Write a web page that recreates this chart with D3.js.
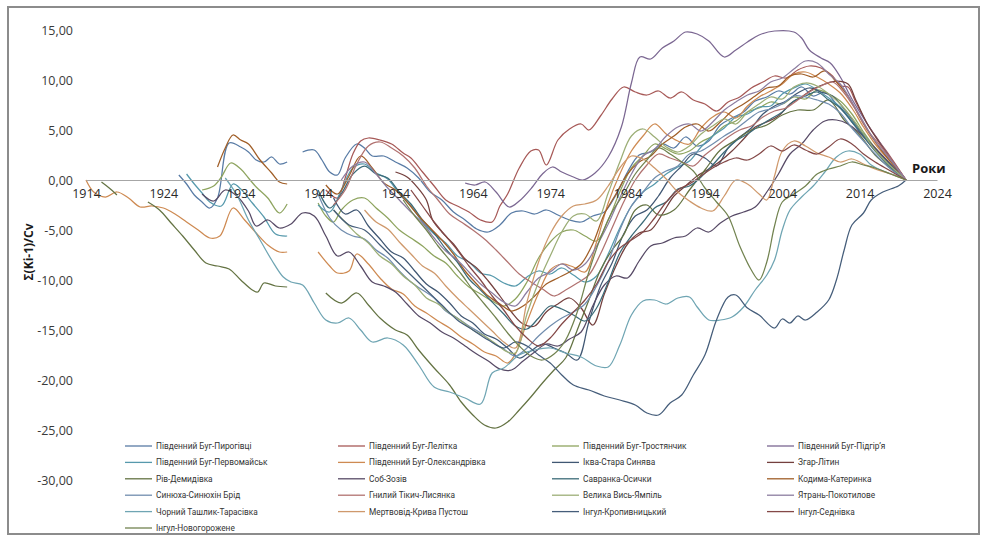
<!DOCTYPE html>
<html>
<head>
<meta charset="utf-8">
<script src="https://cdnjs.cloudflare.com/ajax/libs/d3/7.8.5/d3.min.js"></script>
<style>
  body { margin: 0; background: #fff; }
  svg { display: block; font-family: 'Open Sans', sans-serif; }
</style>
</head>
<body>
<div id="chart"></div>
<script>
// ── DATA: Σ(Ki-1)/Cv difference-integral curves, [year, value] ─────────
const pyrohivtsi = [[1926,0.5],[1927,-0.4],[1928,-1.5],[1929,-2.2],[1930,-2.8],[1931,-1.8],[1932.5,3.7],[1934,3.3],[1935,2.8],[1936,2.0],[1937,1.8],[1938,2.3],[1939,1.6],[1940,1.8],[1941,null],[1942,2.8],[1943.5,3.0],[1944.5,2.0],[1945.5,0.8],[1946.5,0.5],[1947.5,2.2],[1949,3.6],[1950,3.2],[1951,2.4],[1952.5,2.4],[1954,1.8],[1955.5,1.2],[1957,0.2],[1958.5,-1.2],[1960,-2.0],[1961.5,-3.2],[1963,-4.0],[1964.5,-4.9],[1966,-5.2],[1967.5,-4.5],[1969,-3.3],[1970.5,-3.1],[1972,-3.4],[1973.5,-3.0],[1975,-3.5],[1976.5,-4.0],[1978,-4.2],[1979.5,-3.6],[1981,-3.2],[1982.5,-1.5],[1984,0.8],[1985.5,2.5],[1987,2.8],[1988.5,3.6],[1990,3.2],[1991.5,4.3],[1993,3.4],[1994.5,3.9],[1996,5.5],[1997.5,6.2],[1999,6.8],[2000.5,7.9],[2002,8.3],[2003.5,8.9],[2005,8.6],[2006.5,9.3],[2008,8.4],[2009.5,8.8],[2011,7.6],[2012.5,6.3],[2014,4.8],[2015.5,3.4],[2017,2.3],[2018.5,1.1],[2020,0]];
const lelitka = [[1945,-1.0],[1946.5,-1.8],[1947.5,0.2],[1948.5,2.6],[1949.5,3.9],[1950.5,4.2],[1952,4.0],[1953.5,3.6],[1955,2.7],[1956,2.2],[1957.5,0.8],[1959,-0.6],[1960.5,-2.0],[1962,-2.6],[1963.5,-3.2],[1965,-4.0],[1966.5,-4.2],[1967.5,-2.6],[1968.5,-1.4],[1970,1.2],[1971.5,2.9],[1972.5,3.0],[1973.5,1.5],[1975,4.0],[1976.5,5.1],[1978,5.6],[1979,5.0],[1980.5,6.4],[1982,8.1],[1983.5,9.3],[1985,8.8],[1986.5,8.5],[1988,8.9],[1989.5,8.2],[1991,8.8],[1992.5,8.0],[1994,7.6],[1995.5,6.9],[1997,7.8],[1998.5,8.3],[2000,9.2],[2001.5,9.8],[2003,10.4],[2004.5,10.2],[2006,11.0],[2007.5,11.4],[2009,11.2],[2010.5,10.4],[2011.5,9.4],[2012.5,9.3],[2013.5,7.8],[2015,5.6],[2016.5,3.9],[2018,2.3],[2020,0]];
const trostianchyk = [[1929,-1.0],[1930.5,-0.6],[1931.5,0.3],[1932.7,1.7],[1934,1.1],[1935,0.2],[1936,-0.7],[1937.5,-1.8],[1939,-3.3],[1940,-2.4],[1941,null],[1944,-2.3],[1945,-3.6],[1946,-4.2],[1947,-3.0],[1948.5,-2.0],[1950,-1.8],[1951.5,-2.8],[1953,-3.8],[1954.5,-5.0],[1956,-5.8],[1957.5,-6.6],[1959,-7.6],[1960.5,-8.3],[1962,-9.6],[1963.5,-10.7],[1965,-11.4],[1966.5,-12.1],[1968,-12.6],[1969.5,-11.9],[1971,-10.2],[1972.5,-7.8],[1974,-6.2],[1975.5,-5.2],[1977,-5.0],[1978.5,-5.6],[1980,-6.1],[1981.5,-4.0],[1983,-1.2],[1984.5,1.2],[1986,2.4],[1987.5,3.6],[1989,3.1],[1990.5,2.6],[1992,2.9],[1993.5,3.8],[1995,4.4],[1996.5,5.4],[1998,5.9],[1999.5,6.8],[2001,7.2],[2002.5,7.8],[2004,7.6],[2005.5,8.3],[2007,8.1],[2008.5,9.0],[2010,8.6],[2011.5,7.9],[2013,6.6],[2014.5,4.8],[2016,3.2],[2018,1.5],[2020,0]];
const pidhirya = [[1963,-0.3],[1964.3,-0.5],[1965.6,-0.2],[1967,-1.2],[1968.7,-2.7],[1970,-2.1],[1971.7,-0.7],[1973,0.6],[1974.3,1.3],[1975.5,0.8],[1977,0.3],[1978.2,0.0],[1979.8,0.7],[1981.5,2.3],[1983.2,5.3],[1984.5,9.7],[1985.6,12.3],[1987,12.1],[1988.5,13.2],[1990,13.9],[1991.5,14.8],[1993,14.6],[1994.5,13.9],[1996.5,12.3],[1998,13.0],[1999.5,13.8],[2001,14.5],[2003,14.9],[2005.5,14.8],[2006.5,14.2],[2007.5,13.0],[2009,12.2],[2010.2,11.7],[2011.5,10.3],[2013,8.1],[2015,5.6],[2017,3.3],[2018.5,1.6],[2020,0]];
const pervomaisk = [[1927,0.6],[1928,-0.4],[1929,-1.3],[1930,-2.2],[1931.5,-2.6],[1933,-0.4],[1934,-0.9],[1935.5,-2.3],[1937,-3.7],[1938.5,-5.4],[1940,-5.6],[1941,null],[1944,-2.5],[1945.5,-3.2],[1947,-1.0],[1948.5,1.2],[1950,1.6],[1951.5,0.7],[1953,0.1],[1954.5,-1.4],[1956,-2.6],[1957.5,-4.2],[1959,-5.4],[1960.5,-6.3],[1962,-7.6],[1963.5,-8.2],[1965,-9.3],[1966.5,-9.6],[1968,-10.3],[1969.5,-10.6],[1971,-9.7],[1972.5,-9.1],[1974,-9.4],[1975.5,-8.8],[1977,-9.5],[1978.5,-10.2],[1980,-9.6],[1981.5,-7.4],[1983,-4.8],[1984.5,-2.6],[1986,-1.2],[1987.5,-0.4],[1989,0.6],[1990.5,1.3],[1992,1.9],[1993.5,3.3],[1995,4.4],[1996.5,5.2],[1998,6.3],[1999.5,6.6],[2001,7.3],[2002.5,7.4],[2004,8.6],[2005.5,9.2],[2007,9.6],[2008.5,9.0],[2010,8.2],[2011.5,7.3],[2013,5.9],[2014.5,4.6],[2016,3.1],[2018,1.5],[2020,0]];
const oleksandrivka = [[1914,0],[1915,-1.2],[1916.5,-1.7],[1918,-1.2],[1919.5,-1.8],[1921,-2.7],[1922.5,-2.6],[1924,-2.8],[1925.5,-3.4],[1927,-4.2],[1928.5,-5.0],[1930,-5.8],[1931.3,-5.6],[1933,-2.8],[1934.5,-4.0],[1936,-5.3],[1937.5,-6.5],[1939,-7.2],[1940,-7.2],[1941,null],[1944,-7.2],[1945.5,-8.6],[1946.5,-9.3],[1948,-9.1],[1949,-7.4],[1950.5,-8.4],[1952,-9.8],[1953.5,-10.9],[1955,-11.4],[1956.5,-12.6],[1958,-13.3],[1959.5,-14.1],[1961,-14.8],[1962.5,-15.7],[1964,-16.4],[1965.5,-17.2],[1967,-17.6],[1968.5,-18.3],[1969.5,-17.4],[1971,-14.2],[1972.5,-11.3],[1974,-9.0],[1975.5,-8.4],[1977,-8.7],[1978.5,-9.2],[1980,-6.2],[1981.5,-2.3],[1983,0.6],[1984.5,2.9],[1986,4.4],[1987.5,5.6],[1989,4.6],[1990.5,3.9],[1992,3.6],[1993.5,5.2],[1995,6.3],[1996.5,6.8],[1998,6.2],[1999.5,7.4],[2001,8.3],[2002.5,8.9],[2004,9.6],[2005.5,10.6],[2007,10.8],[2008.5,10.3],[2010,9.6],[2011.5,8.7],[2013,7.2],[2014.5,5.3],[2016,3.6],[2018,1.8],[2020,0]];
const ikva = [[1946,-1.8],[1947.5,-3.4],[1949,-3.0],[1950.5,-4.6],[1952,-5.9],[1953.5,-7.2],[1955,-7.8],[1956.5,-9.1],[1958,-10.4],[1959.5,-11.2],[1961,-12.3],[1962.5,-13.6],[1964,-14.3],[1965.5,-15.4],[1967,-15.9],[1968.5,-16.8],[1970,-17.8],[1971.5,-17.1],[1973,-16.4],[1974.5,-16.8],[1976,-17.3],[1977.5,-18.0],[1979,-14.2],[1980.5,-10.6],[1982,-8.3],[1983.5,-5.4],[1985,-3.6],[1986.5,-3.0],[1988,-1.6],[1989.5,0.2],[1991,1.4],[1992.5,2.6],[1994,2.2],[1995.5,1.4],[1997,3.2],[1998.5,4.3],[2000,5.2],[2001.5,6.6],[2003,7.4],[2004.5,7.9],[2006,8.7],[2007.5,9.2],[2009,8.8],[2010.5,8.4],[2012,7.1],[2013.5,5.6],[2015,4.0],[2016.5,2.7],[2018,1.5],[2020,0]];
const zhar = [[1954,0.8],[1955.5,0.3],[1956.8,-0.7],[1958,-2.0],[1958.8,-4.0],[1960,-5.2],[1961.5,-6.4],[1963,-7.9],[1964.5,-8.8],[1966,-10.1],[1967.5,-11.6],[1969,-13.2],[1970.5,-14.4],[1972,-14.6],[1973.5,-13.2],[1975,-12.4],[1976.5,-11.8],[1978,-12.8],[1979.5,-14.5],[1981,-11.4],[1982.5,-8.6],[1984,-6.4],[1985.5,-5.3],[1987,-5.0],[1988.5,-3.4],[1990,-1.6],[1991.5,-0.6],[1993,0.4],[1994.5,1.1],[1996,1.9],[1997.5,2.9],[1999,4.1],[2000.5,5.3],[2002,5.8],[2003.5,6.4],[2005,7.6],[2006.5,8.3],[2008,9.1],[2009.5,9.6],[2011,9.9],[2012.5,9.6],[2013.5,8.0],[2015,5.6],[2016.5,3.8],[2018,2.1],[2020,0]];
const rivDemydivka = [[1916,-0.2],[1917,-0.8],[1918,-1.5],[1920,null],[1922,-2.2],[1923.5,-3.0],[1925,-4.3],[1926.5,-5.6],[1928,-7.0],[1929.5,-8.3],[1931,-8.6],[1932.5,-8.9],[1934,-10.0],[1935.5,-11.0],[1936.2,-11.2],[1937,-10.3],[1938.5,-10.6],[1940,-10.7],[1942,null],[1945,-11.3],[1947,-12.3],[1949,-11.3],[1950.5,-12.5],[1952,-13.8],[1954,-15.0],[1955.5,-15.5],[1957,-17.0],[1959,-18.8],[1961,-20.5],[1962.5,-22.2],[1964,-23.5],[1965.5,-24.5],[1967,-24.8],[1968.5,-24.2],[1970,-23.0],[1971.5,-21.7],[1973,-20.3],[1974.5,-19.0],[1976,-17.8],[1977.5,-15.0],[1979,-12.0],[1980.5,-9.0],[1982,-7.0],[1983.5,-5.5],[1985,-3.0],[1986.5,-2.5],[1988,-3.5],[1990,-3.0],[1992,-1.0],[1994,1.0],[1996,3.0],[1998,4.0],[2000,5.0],[2002,5.5],[2004,6.5],[2006,7.0],[2008,7.0],[2010,8.0],[2012,6.0],[2014,4.5],[2016,2.5],[2018,1.2],[2020,0]];
const sobZoziv = [[1929,-1.4],[1930.5,-2.1],[1932,-1.0],[1933.5,-1.6],[1935,-3.1],[1936,-4.6],[1937.5,-4.0],[1939,-4.8],[1940.5,-4.4],[1942,-3.3],[1943.5,-3.6],[1945,-5.6],[1946.5,-7.6],[1948,-7.2],[1949.5,-8.6],[1951,-10.2],[1952.5,-10.6],[1954,-11.2],[1955.5,-12.4],[1957,-13.6],[1958.5,-14.3],[1960,-15.2],[1961.5,-15.8],[1963,-16.6],[1964.5,-17.4],[1966,-18.1],[1967.5,-18.9],[1969,-19.0],[1970.5,-18.1],[1972,-17.2],[1973.5,-16.4],[1975,-16.6],[1976.5,-15.9],[1978,-15.2],[1979.5,-12.6],[1981,-10.5],[1982.5,-9.6],[1984,-9.8],[1985.5,-8.1],[1987,-6.6],[1988.5,-6.3],[1990,-5.8],[1991.5,-5.6],[1993,-4.8],[1994.5,-5.2],[1996,-4.3],[1997.5,-3.6],[1999,-3.2],[2000.5,-2.7],[2002,-1.2],[2003.5,0.6],[2005,2.6],[2006.5,3.6],[2008,5.0],[2009.5,5.9],[2011,6.0],[2012.5,5.6],[2014,4.7],[2015.5,3.6],[2017,2.4],[2018.5,1.2],[2020,0]];
const savranka = [[1944,-1.0],[1945.5,-2.8],[1947,-1.4],[1948.5,0.6],[1950,1.4],[1951.5,0.6],[1953,0.2],[1954.5,-1.2],[1956,-2.4],[1957.5,-4.0],[1959,-5.3],[1960.5,-6.9],[1962,-8.2],[1963.5,-9.9],[1965,-11.0],[1966.5,-12.2],[1968,-13.4],[1969.5,-14.6],[1971,-14.9],[1972.5,-13.8],[1974,-12.6],[1975.5,-12.9],[1977,-13.5],[1978.5,-14.1],[1980,-12.8],[1981.5,-10.2],[1983,-7.3],[1984.5,-5.6],[1986,-4.2],[1987.5,-2.8],[1989,-2.2],[1990.5,-0.9],[1992,-0.6],[1993.5,0.3],[1995,1.5],[1996.5,2.8],[1998,3.9],[1999.5,4.6],[2001,5.4],[2002.5,6.1],[2004,6.8],[2005.5,7.9],[2007,8.4],[2008.5,8.8],[2010,8.0],[2011.5,7.2],[2013,5.8],[2014.5,4.4],[2016,2.9],[2018,1.3],[2020,0]];
const kodyma = [[1931,1.3],[1932,3.2],[1933,4.5],[1934,4.0],[1935,3.6],[1936.5,2.0],[1938,0.7],[1939,-0.2],[1940,-0.4],[1941,null],[1945,-0.5],[1946.5,-1.4],[1948,0.4],[1949.5,2.4],[1951,1.2],[1952.5,-0.3],[1954,-1.0],[1955.5,-2.2],[1957,-3.6],[1958.5,-4.8],[1960,-6.0],[1961.5,-7.4],[1963,-9.1],[1964.5,-10.4],[1966,-11.6],[1967.5,-12.4],[1969,-13.1],[1970.5,-12.6],[1972,-11.6],[1973.5,-10.4],[1975,-9.8],[1976.5,-9.2],[1978,-8.4],[1979.5,-6.4],[1981,-3.4],[1982.5,-1.4],[1984,0.6],[1985.5,1.8],[1987,2.4],[1988.5,3.6],[1990,4.4],[1991.5,5.3],[1993,5.6],[1994.5,4.9],[1996,5.8],[1997.5,6.9],[1999,7.6],[2000.5,8.4],[2002,9.2],[2003.5,9.4],[2005,10.4],[2006.5,10.6],[2008,10.3],[2009.5,10.9],[2011,9.8],[2012.5,8.4],[2014,6.3],[2015.5,4.4],[2017,2.8],[2018.5,1.4],[2020,0]];
const synyukha = [[1944,-1.4],[1945.5,-3.8],[1947,-5.0],[1948.5,-5.6],[1950,-5.9],[1951.5,-7.0],[1953,-7.8],[1954.5,-9.1],[1956,-10.2],[1957.5,-11.0],[1959,-11.8],[1960.5,-13.1],[1962,-13.8],[1963.5,-14.6],[1965,-15.3],[1966.5,-16.2],[1968,-16.9],[1969.5,-17.6],[1971,-16.8],[1972.5,-15.6],[1974,-14.6],[1975.5,-13.8],[1977,-13.2],[1978.5,-12.4],[1980,-10.6],[1981.5,-8.2],[1983,-5.0],[1984.5,-2.6],[1986,-1.2],[1987.5,0.2],[1989,0.9],[1990.5,1.4],[1992,2.6],[1993.5,2.9],[1995,3.6],[1996.5,4.4],[1998,5.1],[1999.5,6.0],[2001,6.8],[2002.5,7.1],[2004,7.6],[2005.5,8.4],[2007,8.3],[2008.5,8.0],[2010,7.6],[2011.5,6.7],[2013,5.2],[2014.5,3.9],[2016,2.6],[2018,1.1],[2020,0]];
const hnylyiTikych = [[1946,-2.5],[1947.5,-1.0],[1949,1.6],[1950.5,3.4],[1952,3.8],[1953.5,3.2],[1955,2.4],[1956.5,1.2],[1958,-0.6],[1959.5,-2.0],[1961,-3.4],[1962.5,-4.2],[1964,-5.0],[1965.5,-5.9],[1967,-7.0],[1968.5,-8.2],[1970,-9.4],[1971.5,-10.2],[1973,-10.9],[1974.5,-11.6],[1976,-11.0],[1977.5,-10.3],[1979,-9.5],[1980.5,-7.4],[1982,-4.8],[1983.5,-2.2],[1985,0.0],[1986.5,1.5],[1988,2.6],[1989.5,2.2],[1991,1.8],[1992.5,1.4],[1994,2.5],[1995.5,3.4],[1997,4.3],[1998.5,5.0],[2000,5.4],[2001.5,6.3],[2003,6.9],[2004.5,7.2],[2006,8.0],[2007.5,8.8],[2009,9.4],[2010.5,9.8],[2012,8.7],[2013.5,7.0],[2015,5.0],[2016.5,3.6],[2018,2.1],[2020,0]];
const velykaVys = [[1946,-3.0],[1947.5,-4.2],[1949,-5.4],[1950.5,-6.3],[1952,-7.6],[1953.5,-8.4],[1955,-9.6],[1956.5,-10.5],[1958,-11.8],[1959.5,-12.4],[1961,-13.3],[1962.5,-14.1],[1964,-15.0],[1965.5,-15.6],[1967,-16.4],[1968.5,-17.2],[1969.5,-17.3],[1971,-13.4],[1972.5,-10.2],[1974,-7.6],[1975.5,-5.2],[1977,-3.6],[1978.5,-3.4],[1980,-4.1],[1981.5,-1.3],[1983,1.8],[1984.5,4.4],[1986,5.1],[1987.5,4.3],[1989,3.3],[1990.5,2.8],[1992,3.4],[1993.5,4.6],[1995,5.4],[1996.5,6.1],[1998,5.6],[1999.5,6.8],[2001,7.6],[2002.5,8.3],[2004,8.1],[2005.5,9.3],[2007,9.7],[2008.5,9.4],[2010,8.6],[2011.5,7.6],[2013,6.2],[2014.5,4.6],[2016,3.0],[2018,1.4],[2020,0]];
const yatran = [[1947,0.0],[1948.5,1.4],[1950,1.8],[1951.5,0.6],[1953,-0.8],[1954.5,-2.0],[1956,-3.2],[1957.5,-4.3],[1959,-5.8],[1960.5,-7.1],[1962,-8.0],[1963.5,-9.2],[1965,-10.4],[1966.5,-11.3],[1968,-12.2],[1969.5,-12.6],[1971,-11.2],[1972.5,-9.8],[1974,-9.2],[1975.5,-8.4],[1977,-9.0],[1978.5,-8.4],[1980,-6.6],[1981.5,-4.4],[1983,-1.8],[1984.5,0.6],[1986,2.4],[1987.5,3.1],[1989,4.4],[1990.5,5.3],[1992,5.6],[1993.5,4.9],[1995,5.8],[1996.5,7.0],[1998,7.8],[1999.5,8.5],[2001,8.9],[2002.5,9.8],[2004,10.2],[2005.5,11.1],[2007,11.9],[2008.5,11.7],[2010,10.6],[2011.5,9.6],[2013,7.8],[2014.5,5.8],[2016,3.9],[2018,2.0],[2020,0]];
const chornyiTashlyk = [[1932,0.2],[1933.5,-1.5],[1935,-4.0],[1936.5,-6.0],[1938,-8.0],[1939.5,-9.7],[1940.5,-10.2],[1942,-10.5],[1943.5,-12.3],[1945,-14.0],[1946.5,-14.3],[1948,-13.8],[1949.5,-15.0],[1951,-16.2],[1953,-15.8],[1955,-16.5],[1957,-18.5],[1959,-20.7],[1961,-21.2],[1963,-21.8],[1965,-22.4],[1966.5,-19.3],[1968,-18.8],[1970,-17.5],[1972,-17.0],[1974,-16.8],[1976,-17.3],[1978,-17.7],[1980,-18.6],[1981.5,-18.7],[1983,-16.5],[1984.5,-13.5],[1986,-12.1],[1987.5,-12.0],[1989,-12.4],[1990.5,-11.8],[1992,-11.7],[1993,-12.7],[1994.5,-14.0],[1996,-14.0],[1997.5,-13.7],[1999,-12.7],[2000.5,-11.0],[2002,-9.5],[2003,-8.0],[2004,-5.0],[2005,-3.0],[2006.5,-1.7],[2008,-0.6],[2009.5,0.8],[2011,2.3],[2012.5,2.9],[2014,2.6],[2015.5,1.5],[2017,0.9],[2018.5,0.5],[2020,0]];
const mertvovid = [[1950,-3.0],[1951.5,-4.2],[1953,-4.9],[1954.5,-6.2],[1956,-7.4],[1957.5,-8.6],[1959,-9.3],[1960.5,-10.6],[1962,-11.8],[1963.5,-12.9],[1965,-14.0],[1966.5,-15.1],[1968,-16.2],[1969.5,-16.8],[1971,-12.2],[1972.5,-8.2],[1974,-5.4],[1975.5,-3.6],[1977,-2.6],[1978.5,-2.4],[1980,-2.0],[1981.5,-0.6],[1983,1.2],[1984.5,2.4],[1986,2.1],[1987.5,1.2],[1989,0.1],[1990.5,-1.2],[1992,-2.1],[1993.5,-2.8],[1995,-3.1],[1996.5,-1.6],[1998,0.0],[1999.5,-0.4],[2001,-1.4],[2002,-2.0],[2003,0.4],[2004,2.9],[2005.5,3.9],[2007,3.4],[2008.5,2.7],[2010,2.3],[2011.5,1.8],[2013,2.1],[2014.5,1.6],[2016,1.1],[2018,0.6],[2020,0]];
const inhulKropyvnytskyi = [[1946,-3.0],[1948,-4.5],[1950,-5.0],[1952,-6.5],[1954,-8.0],[1956,-9.5],[1958,-11.0],[1960,-12.5],[1962,-14.0],[1964,-15.0],[1966,-16.0],[1968,-16.8],[1969.5,-16.2],[1971,-16.6],[1972.5,-17.5],[1974,-18.3],[1975.5,-19.5],[1977,-20.5],[1979,-21.0],[1981,-21.6],[1983,-22.0],[1985,-22.5],[1986.5,-23.3],[1988,-23.5],[1989.5,-22.3],[1991,-21.5],[1992.5,-19.5],[1994,-17.5],[1995.5,-14.0],[1997,-11.7],[1998,-11.5],[1999.5,-12.8],[2001,-13.5],[2003,-14.8],[2004,-13.9],[2005,-14.3],[2006,-13.6],[2007,-14.0],[2008.5,-13.2],[2010,-12.0],[2011,-10.0],[2012,-7.0],[2013,-4.5],[2014.5,-3.3],[2015.5,-2.0],[2017,-1.2],[2019,-0.6],[2020,0]];
const inhulSednivka = [[1956,-1.0],[1957.5,-2.6],[1959,-4.2],[1960.5,-5.6],[1962,-7.0],[1963.5,-8.6],[1965,-10.0],[1966.5,-11.6],[1968,-13.0],[1969.5,-14.6],[1971,-15.8],[1972.5,-16.6],[1974,-15.8],[1975.5,-14.4],[1977,-13.2],[1978.5,-12.0],[1980,-10.4],[1981.5,-8.2],[1983,-6.8],[1984.5,-6.0],[1986,-5.2],[1987.5,-3.8],[1989,-2.2],[1990.5,-1.0],[1992,-0.4],[1993.5,0.4],[1995,1.2],[1996.5,1.8],[1998,2.2],[1999.5,2.0],[2001,2.6],[2002.5,3.4],[2004,2.9],[2005.5,3.5],[2007,3.0],[2008.5,2.6],[2010,3.3],[2011.5,4.1],[2013,3.6],[2014.5,2.6],[2016,1.8],[2018,0.9],[2020,0]];
const inhulNovohorozhene = [[1955,-2.0],[1956.5,-3.6],[1958,-5.0],[1959.5,-6.6],[1961,-8.0],[1962.5,-9.4],[1964,-11.0],[1965.5,-12.4],[1967,-13.8],[1968.5,-15.3],[1970,-16.6],[1971.5,-17.6],[1973,-18.0],[1974.5,-17.4],[1976,-16.0],[1977.5,-13.2],[1979,-9.2],[1980.5,-5.8],[1982,-3.2],[1983.5,-1.4],[1985,0.6],[1986.5,2.0],[1988,3.2],[1989.5,2.6],[1991,1.8],[1992.5,0.9],[1994,-0.8],[1995.5,-2.2],[1997,-3.6],[1998.5,-6.6],[2000,-9.0],[2001,-10.0],[2002,-8.2],[2003,-4.6],[2004,-2.2],[2005.5,-1.4],[2007,-0.6],[2008.5,0.6],[2010,1.1],[2011.5,1.4],[2013,1.8],[2014.5,1.5],[2016,1.2],[2018,0.6],[2020,0]];

const seriesNames = [
  'Південний Буг-Пирогівці', 'Південний Буг-Лелітка', 'Південний Буг-Тростянчик', 'Південний Буг-Підгір\u2019я',
  'Південний Буг-Первомайськ', 'Південний Буг-Олександрівка', 'Іква-Стара  Синява', 'Згар-Літин',
  'Рів-Демидівка', 'Соб-Зозів', 'Савранка-Осички', 'Кодима-Катеринка',
  'Синюха-Синюхін Брід', 'Гнилий Тікич-Лисянка', 'Велика Вись-Ямпіль', 'Ятрань-Покотилове',
  'Чорний Ташлик-Тарасівка', 'Мертвовід-Крива  Пустош', 'Інгул-Кропивницький', 'Інгул-Седнівка',
  'Інгул-Новогорожене'
];
const seriesValues = [
  pyrohivtsi, lelitka, trostianchyk, pidhirya,
  pervomaisk, oleksandrivka, ikva, zhar,
  rivDemydivka, sobZoziv, savranka, kodyma,
  synyukha, hnylyiTikych, velykaVys, yatran,
  chornyiTashlyk, mertvovid, inhulKropyvnytskyi, inhulSednivka,
  inhulNovohorozhene
];
const xTicks = [1914, 1924, 1934, 1944, 1954, 1964, 1974, 1984, 1994, 2004, 2014, 2024];
const yTicks = [15, 10, 5, 0, -5, -10, -15, -20, -25, -30];

// Excel-like series palette, toned down a bit (the source image is washed out)
const basePalette = [
  '#4F81BD', '#C0504D', '#9BBB59', '#8064A2', '#4BACC6', '#F79646',
  '#2C4D75', '#772C2A', '#5F7530', '#4D3B62', '#276A7C', '#B65708',
  '#729ACA', '#CD7371', '#AFC97A', '#9983B5', '#6FBDD1', '#F9AB6B',
  '#34557F', '#8E3836', '#748C43'
];
const colors = basePalette.map(c => d3.interpolateRgb(c, '#6e6e6e')(0.3));

// ── CHART ──────────────────────────────────────────────────────────
const W = 981, H = 536;
const svg = d3.select('#chart').append('svg').attr('width', W).attr('height', H);

svg.append('rect')
  .attr('x', 8).attr('y', 7).attr('width', 971).attr('height', 527)
  .attr('fill', '#fff').attr('stroke', '#8c8c8c').attr('stroke-width', 2);

const x = d3.scaleLinear().domain([1914, 2024]).range([86, 937]);
const y = d3.scaleLinear().domain([-30, 15]).range([480, 30]);

const fmt = v => d3.format('.2f')(v).replace('.', ',').replace('\u2212', '-');

// y axis (labels only)
const yAxis = svg.append('g')
  .attr('transform', 'translate(76,0)')
  .call(d3.axisLeft(y).tickValues(yTicks).tickSize(0).tickPadding(3).tickFormat(fmt));
yAxis.select('.domain').remove();
yAxis.selectAll('text')
  .attr('font-family', "'Open Sans', sans-serif").attr('font-size', 12.5).attr('fill', '#3a3a3a');

// lines
const line = d3.line()
  .defined(d => d[1] != null)
  .x(d => x(d[0]))
  .y(d => y(d[1]))
  .curve(d3.curveCatmullRom.alpha(0.5));

svg.append('g').selectAll('path')
  .data(seriesValues)
  .enter().append('path')
    .attr('d', line)
    .attr('fill', 'none')
    .attr('stroke', (d, i) => colors[i])
    .attr('stroke-width', 1.25)
    .attr('stroke-linejoin', 'round');

// x axis along zero line
const xAxis = svg.append('g')
  .attr('transform', `translate(0,${y(0)})`)
  .call(d3.axisBottom(x).tickValues(xTicks).tickSize(0).tickPadding(9).tickFormat(d3.format('d')));
xAxis.select('.domain').attr('stroke', '#a6a6a6').attr('stroke-width', 1);
xAxis.selectAll('text')
  .attr('font-family', "'Open Sans', sans-serif").attr('font-size', 12.5).attr('fill', '#2a2a2a');

// axis titles
svg.append('text')
  .attr('x', 912).attr('y', 173)
  .attr('font-family', "'Open Sans', sans-serif").attr('font-size', 13).attr('font-weight', 700)
  .attr('fill', '#1a1a1a')
  .text('Роки');

svg.append('text')
  .attr('transform', 'translate(33,252) rotate(-90)')
  .attr('text-anchor', 'middle')
  .attr('font-family', "'Open Sans', sans-serif").attr('font-size', 12).attr('font-weight', 700)
  .attr('fill', '#1a1a1a')
  .text('Σ(Kі-1)/Cv');

// legend: 4 columns, row by row
const legendCols = [125, 338, 552, 767];
const legendRowY = 446, legendRowStep = 16.4;
const legend = svg.append('g').selectAll('g')
  .data(seriesNames)
  .enter().append('g')
    .attr('transform', (d, i) => `translate(${legendCols[i % 4]},${legendRowY + Math.floor(i / 4) * legendRowStep})`);
legend.append('line')
  .attr('x1', 0).attr('x2', 27).attr('y1', 0).attr('y2', 0)
  .attr('stroke', (d, i) => colors[i]).attr('stroke-width', 1.3);
legend.append('text')
  .attr('x', 31).attr('y', 3)
  .attr('font-family', 'Roboto, sans-serif').attr('font-size', 8.3)
  .attr('fill', '#333')
  .text(d => d);
</script>
</body>
</html>
